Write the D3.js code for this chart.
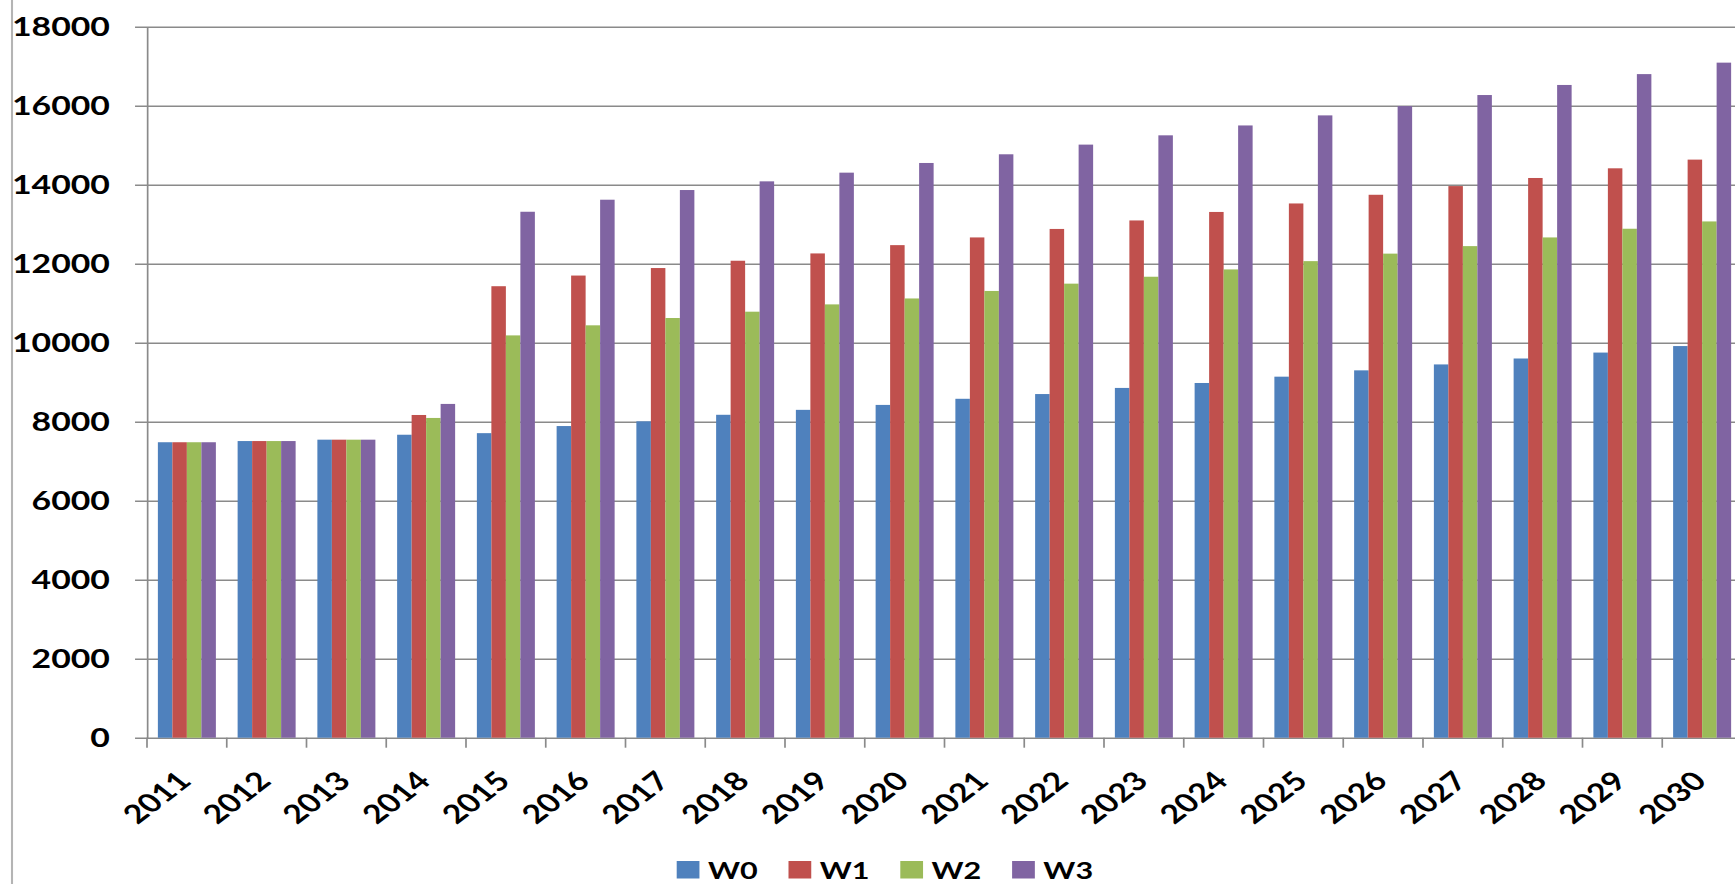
<!DOCTYPE html>
<html>
<head>
<meta charset="utf-8">
<script src="https://cdn.jsdelivr.net/npm/d3@7"></script>
<style>
  html, body { margin: 0; padding: 0; background: #ffffff; }
  svg { display: block; }
  text { font-family: Lato, "Open Sans", sans-serif; font-weight: 700; fill: #000; }
</style>
</head>
<body>
<svg id="chart"></svg>
<script>
// Chart data
const years = ["2011","2012","2013","2014","2015","2016","2017","2018","2019","2020",
               "2021","2022","2023","2024","2025","2026","2027","2028","2029","2030"];
const seriesNames = ["W0", "W1", "W2", "W3"];
const W0 = [7480, 7510, 7545, 7670, 7710, 7890, 8010, 8175, 8300, 8425,
            8580, 8700, 8855, 8980, 9140, 9300, 9450, 9600, 9750, 9915];
const W1 = [7480, 7510, 7545, 8170, 11430, 11700, 11890, 12075, 12260, 12470,
            12665, 12880, 13095, 13310, 13525, 13745, 13965, 14170, 14415, 14635];
const W2 = [7480, 7510, 7545, 8095, 10185, 10440, 10625, 10785, 10970, 11120,
            11310, 11495, 11670, 11855, 12065, 12255, 12445, 12665, 12885, 13070];
const W3 = [7480, 7510, 7545, 8450, 13315, 13620, 13865, 14085, 14305, 14550,
            14770, 15015, 15250, 15500, 15755, 15990, 16270, 16525, 16800, 17090];
const yTicks = [0, 2000, 4000, 6000, 8000, 10000, 12000, 14000, 16000, 18000];
const colors = ["#4F81BD", "#C0504D", "#9BBB59", "#8064A2"];

const seriesValues = [W0, W1, W2, W3];
const rows = years.map((yr, i) => ({
  year: yr,
  values: seriesNames.map((s, j) => ({ key: s, value: seriesValues[j][i] }))
}));

// The chart is laid out in a narrower drawing space and stretched wide.
const K = 1.3;
const pixW = 1735, pixH = 884;
const W = pixW / K, H = pixH;

const plotL = 147 / K, plotR = 1742 / K;
const plotT = 26.7, plotB = 737.7;

const svg = d3.select("#chart")
  .attr("width", pixW)
  .attr("height", pixH)
  .attr("viewBox", `0 0 ${W} ${H}`)
  .attr("preserveAspectRatio", "none");

svg.append("rect").attr("width", W).attr("height", H).attr("fill", "#fff");

// chart border on the left
svg.append("line")
  .attr("x1", 12 / K).attr("x2", 12 / K)
  .attr("y1", 0).attr("y2", H)
  .attr("stroke", "#b4b4b4").attr("stroke-width", 1.6);

// Scales: gap width of 150% between groups
const gap = 1.5 / 5.5;
const x = d3.scaleBand().domain(years).range([plotL, plotR])
  .paddingInner(gap).paddingOuter(gap / 2);
const xs = d3.scaleBand().domain(seriesNames).range([0, x.bandwidth()]);
const y = d3.scaleLinear().domain([0, 18000]).range([plotB, plotT]);
const color = d3.scaleOrdinal().domain(seriesNames).range(colors);

const gridColor = "#8a8a8a";

// Value axis with gridlines
const yAxis = svg.append("g")
  .attr("transform", `translate(${plotL},0)`)
  .call(d3.axisLeft(y)
    .tickValues(yTicks)
    .tickSize(-(plotR - plotL))
    .tickSizeOuter(0)
    .tickPadding(28.5)
    .tickFormat(d3.format("d")));
yAxis.select(".domain").attr("stroke", gridColor).attr("stroke-width", 1.3);
yAxis.selectAll(".tick line")
  .attr("x1", -9.2)
  .attr("stroke", gridColor).attr("stroke-width", 1.5);
yAxis.selectAll(".tick text")
  .attr("font-size", 26)
  .attr("font-family", "Lato, 'Open Sans', sans-serif")
  .attr("font-weight", 700)
  .attr("fill", "#000");

// Category tick marks sit on the boundaries between years
svg.append("g").selectAll("line")
  .data(d3.range(years.length + 1))
  .join("line")
  .attr("x1", i => plotL + i * x.step())
  .attr("x2", i => plotL + i * x.step())
  .attr("y1", plotB).attr("y2", plotB + 10)
  .attr("stroke", gridColor).attr("stroke-width", 1.3);

// Bars
const groups = svg.append("g").selectAll("g")
  .data(rows)
  .join("g")
  .attr("transform", d => `translate(${x(d.year)},0)`);
groups.selectAll("rect")
  .data(d => d.values)
  .join("rect")
  .attr("x", d => xs(d.key))
  .attr("width", xs.bandwidth())
  .attr("y", d => y(d.value))
  .attr("height", d => y(0) - y(d.value))
  .attr("fill", d => color(d.key));

// Category labels, rotated
const xAxis = svg.append("g")
  .attr("transform", `translate(0,${plotB})`)
  .call(d3.axisBottom(x).tickSize(0).tickPadding(0));
xAxis.select(".domain").remove();
xAxis.selectAll(".tick text")
  .attr("x", 0).attr("y", 0).attr("dy", null)
  .attr("text-anchor", "end")
  .attr("transform", `translate(${6 / K},45) rotate(-45)`)
  .attr("font-size", 26)
  .attr("font-family", "Lato, 'Open Sans', sans-serif")
  .attr("font-weight", 700)
  .attr("fill", "#000");

// Legend
const step = 86, sq = 17.5;
const legendTop = 861;
const legendW = (seriesNames.length - 1) * step + sq + 6.5 + 40;
const legend = svg.append("g")
  .attr("transform", `translate(${886 / K - legendW / 2},${legendTop})`);
const items = legend.selectAll("g")
  .data(seriesNames)
  .join("g")
  .attr("transform", (d, i) => `translate(${i * step},0)`);
items.append("rect")
  .attr("width", sq).attr("height", sq)
  .attr("fill", d => color(d));
items.append("text")
  .attr("x", sq + 6.5).attr("y", sq)
  .attr("font-size", 23.5)
  .text(d => d);
</script>
</body>
</html>
